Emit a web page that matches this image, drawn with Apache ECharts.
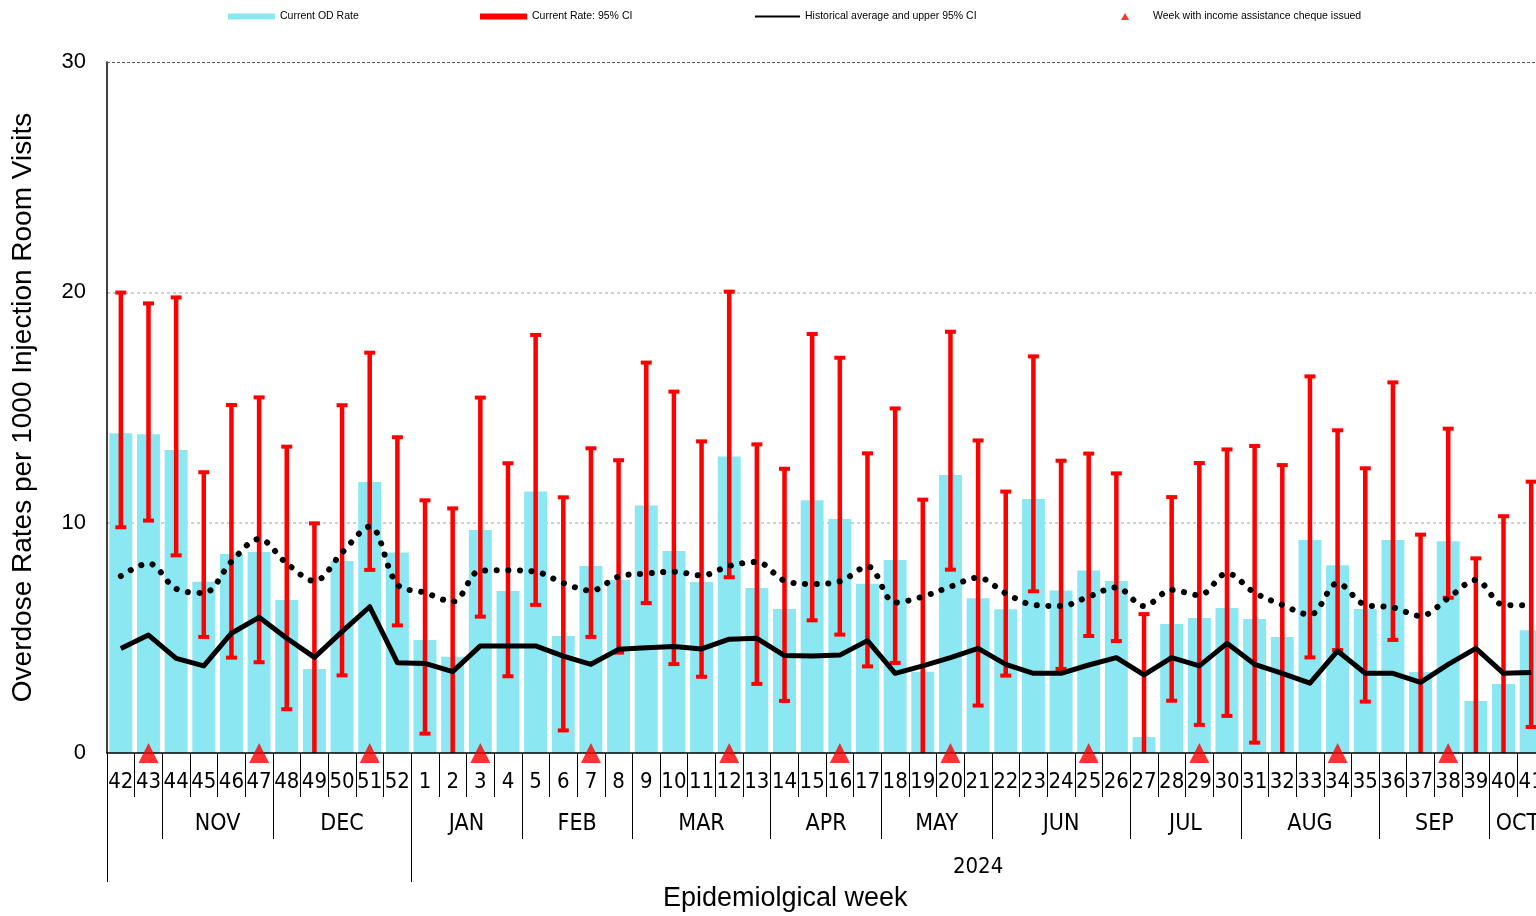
<!DOCTYPE html>
<html>
<head>
<meta charset="utf-8">
<script src="https://cdn.jsdelivr.net/npm/echarts@6/dist/echarts.min.js"></script>
<style>
  html, body { margin: 0; padding: 0; background: #fff; }
  #chart { width: 1536px; height: 916px; }
</style>
</head>
<body>
<div id="chart"></div>
<script>
// week labels, oct 2023 -> oct 2024
const weeks = ['42','43','44','45','46','47','48','49','50','51','52',
  '1','2','3','4','5','6','7','8','9','10','11','12','13','14','15','16','17','18','19','20',
  '21','22','23','24','25','26','27','28','29','30','31','32','33','34','35','36','37','38','39','40','41']

// current overdose rate (bars)
const odRate = [13.88, 13.84, 13.16, 7.44, 8.64, 8.73, 6.64, 3.65, 8.34, 11.77, 8.70,
  4.91, 4.18, 9.68, 7.03, 11.35, 5.08, 8.12, 7.51, 10.75, 8.77, 7.42, 12.87, 7.16, 6.25, 10.97,
  10.16, 7.35, 8.38, 3.53, 12.07, 6.72, 6.24, 11.03, 7.06, 7.92, 7.47, 0.69, 5.60, 5.86, 6.30,
  5.82, 5.04, 9.25, 8.15, 6.25, 9.25, 3.52, 9.19, 2.26, 3.00, 5.33]

// 95% CI of the current rate (negative lows run under the axis)
const ciLow = [9.80, 10.09, 8.58, 5.04, 4.14, 3.94, 1.90, -1, 3.37, 7.95, 5.54,
  0.84, -1, 5.92, 3.33, 6.43, 0.98, 5.04, 4.36, 6.51, 3.86, 3.31, 7.63, 3.00, 2.26, 5.76,
  5.14, 3.76, 3.91, -1, 7.96, 2.06, 3.36, 7.02, 3.65, 5.08, 4.86, -1, 2.27, 1.22, 1.61,
  0.45, -1, 4.15, 4.47, 2.23, 4.91, -1, 6.74, -1, -1, 1.13]
const ciHigh = [19.99, 19.52, 19.78, 12.19, 15.11, 15.44, 13.30, 9.97, 15.10, 17.38, 13.71,
  10.97, 10.62, 15.43, 12.58, 18.15, 11.10, 13.23, 12.71, 16.95, 15.69, 13.53, 20.03, 13.40, 12.34, 18.19,
  17.16, 13.01, 14.96, 11.00, 18.29, 13.57, 11.35, 17.22, 12.69, 13.00, 12.14, 6.03, 11.11, 12.59, 13.18,
  13.33, 12.50, 16.35, 14.01, 12.36, 16.09, 9.48, 14.08, 8.45, 10.28, 11.78]

// historical average and its upper 95% CI
const histAvg = [4.54, 5.12, 4.11, 3.78, 5.20, 5.89, 4.98, 4.15, 5.27, 6.35, 3.92,
  3.89, 3.53, 4.65, 4.65, 4.65, 4.21, 3.85, 4.50, 4.57, 4.62, 4.52, 4.94, 4.98, 4.23, 4.21,
  4.25, 4.88, 3.46, 3.78, 4.14, 4.54, 3.85, 3.46, 3.46, 3.82, 4.14, 3.39, 4.14, 3.78, 4.76,
  3.85, 3.46, 3.03, 4.43, 3.46, 3.46, 3.07, 3.85, 4.54, 3.46, 3.49]
const histUpper = [7.68, 8.23, 7.13, 6.95, 8.31, 9.29, 8.23, 7.47, 8.70, 9.83, 7.32,
  6.96, 6.57, 7.92, 7.93, 7.87, 7.38, 7.05, 7.66, 7.79, 7.87, 7.71, 8.12, 8.29, 7.48, 7.34,
  7.45, 8.10, 6.53, 6.79, 7.22, 7.61, 6.93, 6.43, 6.38, 6.79, 7.19, 6.38, 7.08, 6.85, 7.80,
  6.96, 6.43, 6.00, 7.37, 6.43, 6.32, 5.95, 6.72, 7.51, 6.43, 6.41]

// weeks with income assistance cheque
const chequeWeeks = ['43','47','51','3','7','12','16','20','25','29','34','38']

// month / year bands (start index into weeks)
const monthNames = ['', 'NOV', 'DEC', 'JAN', 'FEB', 'MAR', 'APR', 'MAY', 'JUN', 'JUL', 'AUG', 'SEP', 'OCT']
const monthStarts = [0, 2, 6, 11, 15, 19, 24, 28, 32, 37, 41, 46, 50]
const yearNames = ['', '2024']
const yearStarts = [0, 11]

const narrow = "'Liberation Sans Narrow', 'DejaVu Sans Condensed', sans-serif"
const sans = "'Liberation Sans', Arial, sans-serif"

// half-week slots so band labels can sit on any boundary
const nHalf = weeks.length * 2 + 1
const bandAxis = (names, starts) => {
  const data = new Array(nHalf).fill('')
  const edges = starts.map(s => s * 2).concat([weeks.length * 2])
  names.forEach((n, i) => { data[starts[i] + (starts[i + 1] ?? weeks.length)] = n })
  return { data, edges }
}
const monthBand = bandAxis(monthNames, monthStarts)
const yearBand = bandAxis(yearNames, yearStarts)

const chart = echarts.init(document.getElementById('chart'))

const errorBars = weeks.map((w, i) => [i, ciLow[i], ciHigh[i]])

const legendText = { fontSize: 10.5, color: '#000', fontFamily: sans }

chart.setOption({
  animation: false,
  backgroundColor: '#fff',
  title: {
    text: 'Epidemiolgical week',
    left: 663, top: 885, padding: 0,
    textStyle: { fontSize: 27, fontWeight: 'normal', color: '#000', fontFamily: sans }
  },
  legend: [
    { left: 228, top: 11, padding: 0, itemWidth: 47, itemHeight: 6, selectedMode: false,
      textStyle: legendText,
      data: [{ name: 'Current OD Rate', icon: 'rect' }] },
    { left: 480, top: 11, padding: 0, itemWidth: 47, itemHeight: 6, selectedMode: false,
      textStyle: legendText,
      data: [{ name: 'Current Rate: 95% CI', icon: 'rect' }] },
    { left: 755, top: 11, padding: 0, itemWidth: 45, itemHeight: 2, selectedMode: false,
      textStyle: legendText,
      data: [{ name: 'Historical average and upper 95% CI', icon: 'rect' }] },
    { left: 1121, top: 11, padding: 0, itemWidth: 8, itemHeight: 7, selectedMode: false,
      textStyle: Object.assign({}, legendText, { padding: [0, 0, 0, 19] }),
      data: [{ name: 'Week with income assistance cheque issued', icon: 'triangle' }] }
  ],
  grid: { left: 107, top: 62, width: 1438, height: 691, containLabel: false, outerBoundsMode: 'none' },
  xAxis: [
    {
      type: 'category', data: weeks, position: 'bottom', z: 5,
      axisLine: { show: true, lineStyle: { color: '#000', width: 1.5 } },
      axisTick: { show: true, interval: 0, length: 44, lineStyle: { color: '#000', width: 1 } },
      axisLabel: { interval: 0, margin: 18, fontSize: 22, color: '#000', fontFamily: narrow },
      splitLine: { show: false }
    },
    {
      type: 'category', data: monthBand.data, boundaryGap: false, position: 'bottom',
      axisLine: { show: false },
      axisTick: { show: true, length: 86, interval: (i) => monthBand.edges.includes(i),
        lineStyle: { color: '#000', width: 1 } },
      axisLabel: { interval: (i, v) => v !== '', margin: 60, fontSize: 23, color: '#000', fontFamily: narrow },
      splitLine: { show: false }
    },
    {
      type: 'category', data: yearBand.data, boundaryGap: false, position: 'bottom',
      axisLine: { show: false },
      axisTick: { show: true, length: 129, interval: (i) => yearBand.edges.includes(i),
        lineStyle: { color: '#000', width: 1 } },
      axisLabel: { interval: (i, v) => v !== '', margin: 103, fontSize: 22, color: '#000', fontFamily: narrow },
      splitLine: { show: false }
    }
  ],
  yAxis: {
    type: 'value', min: 0, max: 30, interval: 10,
    name: 'Overdose Rates per 1000 Injection Room Visits',
    nameLocation: 'middle', nameGap: 70,
    nameTextStyle: { fontSize: 28, color: '#000', fontFamily: sans },
    axisLine: { show: true, lineStyle: { color: '#000', width: 1.5 } },
    axisTick: { show: false },
    axisLabel: { margin: 21, fontSize: 22, color: '#000', fontFamily: sans },
    splitLine: { show: true, lineStyle: {
      color: ['rgba(0,0,0,0)', '#cfcfcf', '#cfcfcf', 'rgba(0,0,0,0)'], width: 2, type: [3, 3] } }
  },
  series: [
    {
      name: 'Current OD Rate', type: 'bar', data: odRate, z: 2,
      barCategoryGap: '17%',
      itemStyle: { color: '#8BE8F3' },
      markLine: {
        silent: true, symbol: 'none', label: { show: false },
        lineStyle: { color: '#555', width: 1, type: [3, 2] },
        data: [{ yAxis: 30 }]
      }
    },
    {
      name: 'Current Rate: 95% CI', type: 'custom', data: errorBars, z: 3, clip: true,
      itemStyle: { color: '#ff0000' },
      encode: { x: 0, y: [1, 2] },
      renderItem: (params, api) => {
        const x = api.value(0)
        const hi = api.coord([x, api.value(2)])
        const lo = api.coord([x, api.value(1)])
        const red = { fill: '#ff0000' }
        return {
          type: 'group',
          children: [
            { type: 'line', shape: { x1: hi[0], y1: hi[1], x2: lo[0], y2: lo[1] },
              style: { stroke: '#ff0000', lineWidth: 4.5 } },
            { type: 'rect', shape: { x: hi[0] - 5.5, y: hi[1] - 2, width: 11, height: 4 }, style: red },
            { type: 'rect', shape: { x: lo[0] - 5.5, y: lo[1] - 2, width: 11, height: 4 }, style: red }
          ]
        }
      }
    },
    {
      name: 'Historical average and upper 95% CI', type: 'line', data: histAvg, z: 4,
      symbol: 'none', color: '#000',
      lineStyle: { color: '#000', width: 5, join: 'round' }
    },
    {
      name: 'Historical upper 95% CI', type: 'line', data: histUpper, z: 4,
      symbol: 'none', smooth: 0.35, color: '#000',
      lineStyle: { color: '#000', width: 6, type: [0.1, 11.5], cap: 'round' }
    },
    {
      name: 'Week with income assistance cheque issued', type: 'scatter', z: 6, clip: false,
      data: chequeWeeks.map(w => [w, 0]),
      symbol: 'triangle', symbolSize: [20, 20],
      itemStyle: { color: '#ff0000' }
    }
  ]
})
</script>
</body>
</html>
